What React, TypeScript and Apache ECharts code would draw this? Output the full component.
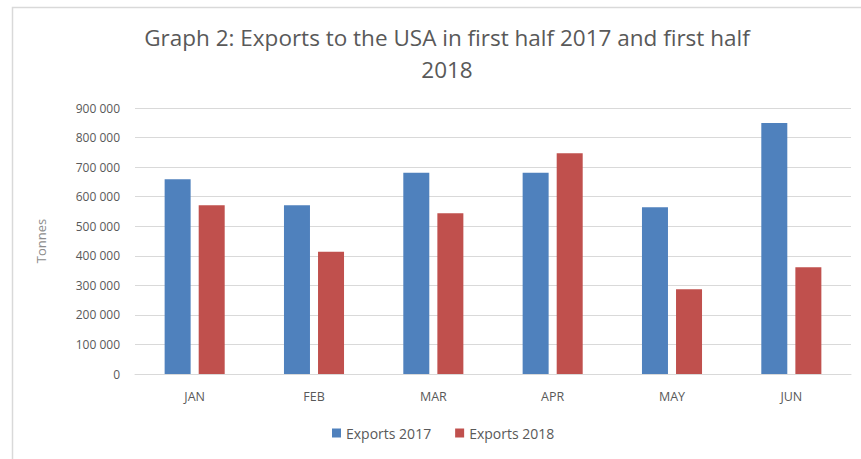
import React, { useEffect, useRef } from "react";
import * as echarts from "echarts";

const months = ["JAN", "FEB", "MAR", "APR", "MAY", "JUN"];
const exports2017 = [659000, 571000, 681000, 681000, 564000, 849000];
const exports2018 = [571000, 414000, 544000, 747000, 287000, 361000];
const seriesNames = ["Exports 2017", "Exports 2018"];
const titleText = "Graph 2: Exports to the USA in first half 2017 and first half\n2018";

const fmt = (v: number) => {
  const s = String(Math.round(v));
  return s.replace(/\B(?=(\d{3})+(?!\d))/g, " ");
};

export default function App() {
  const ref = useRef<HTMLDivElement>(null);
  useEffect(() => {
    if (!ref.current) return;
    const chart = echarts.init(ref.current, undefined, { renderer: "svg" });
    const font = "'Open Sans', 'Noto Sans', sans-serif";
    chart.setOption({
      animation: false,
      backgroundColor: "#ffffff",
      color: ["#4F81BD", "#C0504D"],
      graphic: [
        {
          type: "rect",
          left: 10,
          top: 5,
          shape: { width: 900, height: 500 },
          style: { fill: "none", stroke: "#d9d9d9", lineWidth: 1.5 },
          silent: true,
        },
      ],
      title: {
        text: titleText,
        left: 442,
        textAlign: "center",
        top: 16,
        textStyle: {
          fontFamily: font,
          fontSize: 22.5,
          fontWeight: "normal",
          color: "#595959",
          lineHeight: 32,
        },
      },
      legend: {
        data: seriesNames,
        top: 426,
        left: 332,
        padding: 0,
        itemWidth: 9,
        itemHeight: 9,
        itemGap: 24,
        icon: "rect",
        textStyle: { fontFamily: font, fontSize: 14, color: "#595959" },
      },
      grid: { left: 135, right: 10, top: 108, bottom: 85 },
      xAxis: {
        type: "category",
        data: months,
        axisLine: { lineStyle: { color: "#d9d9d9", width: 1 } },
        axisTick: { show: false },
        axisLabel: {
          fontFamily: font,
          fontSize: 12.5,
          color: "#595959",
          margin: 16,
        },
      },
      yAxis: {
        type: "value",
        min: 0,
        max: 900000,
        interval: 100000,
        name: "Tonnes",
        nameLocation: "middle",
        nameGap: 88,
        nameTextStyle: { fontFamily: font, fontSize: 13, color: "#8c8c8c" },
        axisLine: { show: false },
        axisTick: { show: false },
        splitLine: { lineStyle: { color: "#d9d9d9", width: 1 } },
        axisLabel: {
          fontFamily: font,
          fontSize: 12,
          color: "#595959",
          margin: 15,
          formatter: (v: number) => fmt(v),
        },
      },
      series: [
        {
          name: seriesNames[0],
          type: "bar",
          data: exports2017,
          barWidth: 26,
          barGap: "31%",
        },
        {
          name: seriesNames[1],
          type: "bar",
          data: exports2018,
          barWidth: 26,
          barGap: "31%",
        },
      ],
    });
    return () => chart.dispose();
  }, []);
  return (
    <div
      ref={ref}
      style={{ width: 861, height: 459, position: "absolute", left: 0, top: 0 }}
    />
  );
}
